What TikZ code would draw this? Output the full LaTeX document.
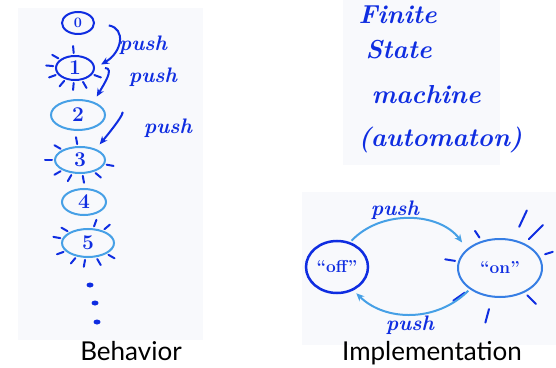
\documentclass[tikz,border=0pt]{standalone}
\usepackage{fontspec}
\setsansfont{Lato}
\usetikzlibrary{positioning}
\usetikzlibrary{arrows.meta}
\usetikzlibrary{shapes.geometric}
\definecolor{inkblue}{RGB}{15,45,225}
\definecolor{lightink}{RGB}{70,160,230}
\definecolor{boardgray}{RGB}{248,249,252}
\tikzset {
  % states are ellipses drawn with a marker
  state/.style = {draw=inkblue, ellipse, line width=2pt, inner sep=0pt,
    text=inkblue, font=\bfseries\fontsize{21}{21}\selectfont},
  dimstate/.style = {state, draw=lightink},
  % light rays round a lit state
  ray/.style = {inkblue, line width=2pt, line cap=round},
  dot/.style = {ellipse, fill=inkblue, inner sep=0pt, minimum width=7pt, minimum height=5pt},
  % transitions
  pusharrow/.style = {-{Stealth[length=8pt,width=7pt]}, inkblue, line width=2pt},
  pushlabel/.style = {text=inkblue, font=\bfseries\itshape\fontsize{21}{21}\selectfont},
  hand/.style = {text=inkblue, font=\bfseries\itshape\fontsize{26}{26}\selectfont, anchor=west},
  caption/.style = {font=\sffamily\fontsize{26}{26}\selectfont, anchor=base},
}

\begin{document}
\begin{tikzpicture}[x=1pt, y=1pt]
  \useasboundingbox (0,0) rectangle (556,367);
  % whiteboards
  \fill[boardgray] (18,27) rectangle (203,359);
  \fill[boardgray] (343,202) rectangle (500,367);
  \fill[boardgray] (302,22) rectangle (556,175);

  % behavior
  \node[state, font=\bfseries\Large, minimum width=32pt, minimum height=22pt] (s0) at (78,344) {0};
  \node[state, minimum width=38pt, minimum height=24pt] (s1) at (75,299) {1};
  \node[dimstate, minimum width=54pt, minimum height=30pt] (s2) at (78,252) {2};
  \node[dimstate, minimum width=50pt, minimum height=26pt] (s3) at (80,207) {3};
  \node[dimstate, minimum width=44pt, minimum height=26pt] (s4) at (84,165) {4};
  \node[dimstate, minimum width=52pt, minimum height=28pt] (s5) at (88,124) {5};

  \foreach \a in {95,150,175,200,230,265,300,340}
    \draw[ray] (s1.\a) ++(\a:2pt) -- ++(\a:7pt);
  \foreach \a in {100,150,180,210,240,280,320,350}
    \draw[ray] (s3.\a) ++(\a:2pt) -- ++(\a:7pt);
  \foreach \a in {40,70,150,170,200,230,260,300,330}
    \draw[ray] (s5.\a) ++(\a:2pt) -- ++(\a:7pt);

  \node[dot] (d1) at (90,82) {};
  \node[dot] (d2) at (95,64) {};
  \node[dot] (d3) at (97,45) {};

  \draw[pusharrow, shorten <=14pt, shorten >=7pt] (s0.east) to[out=-10, in=30, looseness=1.8] (s1.east);
  \draw[pusharrow, shorten <=10pt, shorten >=6pt] (s1.east) to[out=0, in=60, looseness=1.5] (s2.40);
  \draw[pusharrow, shorten <=16pt, shorten >=6pt] (s2.east) to[out=10, in=50, looseness=1.5] (s3.35);

  \node[pushlabel] (p1) at (143,322) {push};
  \node[pushlabel] (p2) at (153,290) {push};
  \node[pushlabel] (p3) at (168,239) {push};

  % implementation
  \node[hand] (fin) at (355,352) {Finite};
  \node[hand] (sta) at (362,317) {State};
  \node[hand] (mac) at (368,272) {machine};
  \node[hand] (aut) at (355,227) {(automaton)};

  \node[state, line width=2.5pt, font=\bfseries\LARGE, minimum width=62pt, minimum height=52pt] (off) at (337,100) {``off''};
  \node[state, draw=lightink!70!inkblue, font=\bfseries\LARGE, minimum width=84pt, minimum height=58pt] (on) at (500,99) {``on''};

  \foreach \a/\g/\l in {171/3/10, 215/6/14, 255/12/14, 315/4/12, 17/6/8, 45/6/20, 65/14/18, 124/4/8}
    \draw[ray] (on.\a) ++(\a:\g pt) -- ++(\a:\l pt);

  \draw[pusharrow, lightink, shorten <=2pt, shorten >=8pt] (off.62) to[bend left=50] (on.150);
  \draw[pusharrow, lightink, shorten <=2pt, shorten >=4pt] (on.215) to[bend left=45] (off.-55);

  \node[pushlabel] (p4) at (395,157) {push};
  \node[pushlabel] (p5) at (410,42) {push};

  \node[caption] (beh) at (131,7) {Behavior};
  \node[caption] (imp) at (432,7) {Implementation};
\end{tikzpicture}
\end{document}
